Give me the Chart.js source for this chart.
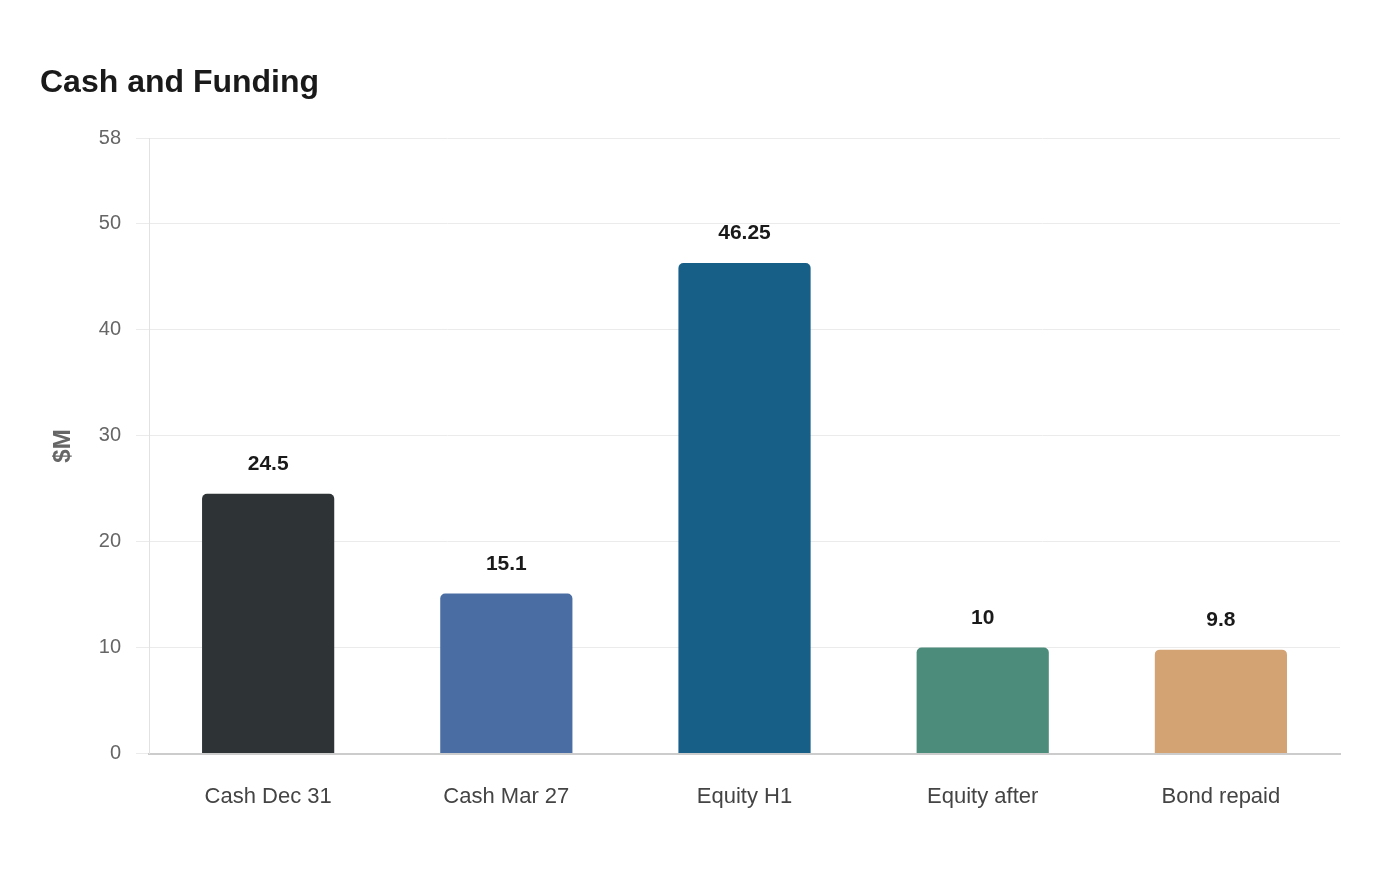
<!DOCTYPE html>
<html>
<head>
<meta charset="utf-8">
<script src="https://cdn.jsdelivr.net/npm/chart.js@4"></script>
<style>
  html, body { margin: 0; padding: 0; background: #fff; }
  #wrap { width: 1400px; height: 880px; }
</style>
</head>
<body>
<div id="wrap"><canvas id="fundingChart" width="1400" height="880"></canvas></div>
<script>
// data
const categories = ['Cash Dec 31', 'Cash Mar 27', 'Equity H1', 'Equity after', 'Bond repaid'];
const amounts = [24.5, 15.1, 46.25, 10, 9.8];
const barColors = ['#2e3436', '#4a6ea3', '#175f87', '#4c8c7a', '#d3a373'];
const yMax = 58;

// labels above bars*
const valueLabels = {
  id: 'valueLabels',
  afterDatasetsDraw(chart) {
    const ctx = chart.ctx;
    const meta = chart.getDatasetMeta(0);
    ctx.save();
    ctx.font = 'bold 21px "Liberation Sans", Arial, sans-serif';
    ctx.fillStyle = '#1a1a1a';
    ctx.textAlign = 'center';
    ctx.textBaseline = 'bottom';
    meta.data.forEach(function(bar, i) {
      ctx.fillText(String(amounts[i]), bar.x, bar.y - 19);
    });
    ctx.restore();
  }
};

const ctx = document.getElementById('fundingChart').getContext('2d');
const fundingChart = new Chart(ctx, {
  type: 'bar',
  data: {
    labels: categories,
    datasets: [{
      data: amounts,
      backgroundColor: barColors,
      borderRadius: { topLeft: 5, topRight: 5 },
      borderSkipped: 'bottom',
      barPercentage: 0.555,
      categoryPercentage: 1
    }]
  },
  options: {
    responsive: false,
    animation: false,
    layout: {
      padding: { top: 64, left: 40, right: 60, bottom: 48 }
    },
    plugins: {
      legend: { display: false },
      tooltip: { enabled: false },
      title: {
        display: true,
        text: 'Cash and Funding',
        align: 'start',
        color: '#1a1a1a',
        font: { size: 32, weight: 'bold', family: '"Liberation Sans", Arial, sans-serif' },
        padding: { top: 0, bottom: 36 }
      }
    },
    scales: {
      x: {
        grid: { display: false },
        border: { color: '#cccccc', width: 2 },
        ticks: {
          color: '#444',
          padding: 22,
          font: { size: 22, family: '"Liberation Sans", Arial, sans-serif' }
        }
      },
      y: {
        min: 0,
        max: yMax,
        grid: { color: '#ebebeb', tickLength: 13 },
        border: { color: '#e2e2e2' },
        ticks: {
          stepSize: 10,
          color: '#666',
          padding: 15,
          font: { size: 20, family: '"Liberation Sans", Arial, sans-serif' }
        },
        title: {
          display: true,
          text: '$M',
          color: '#666',
          padding: { top: 9, bottom: 6 },
          font: { size: 24, weight: 'bold', family: '"Liberation Sans", Arial, sans-serif' }
        }
      }
    }
  },
  plugins: [valueLabels]
});
</script>
</body>
</html>
